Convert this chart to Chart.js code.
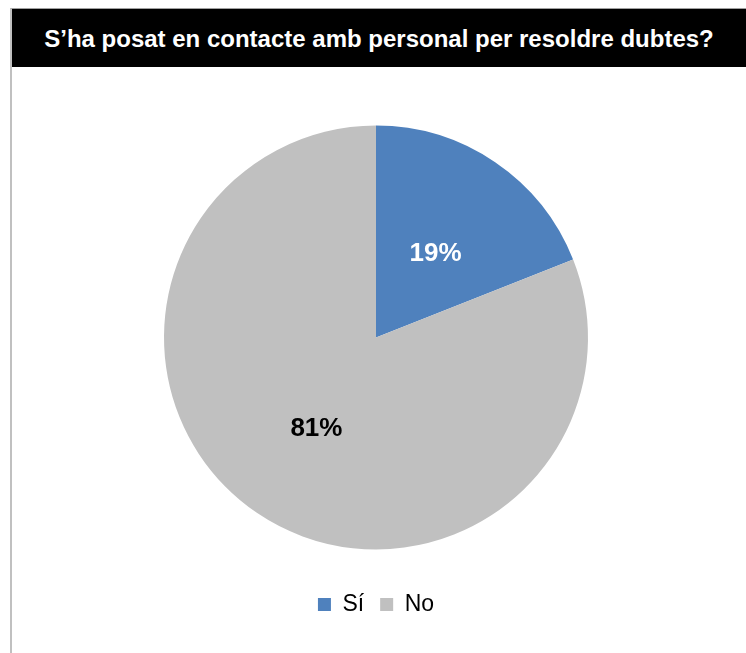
<!DOCTYPE html>
<html>
<head>
<meta charset="utf-8">
<style>
  body { margin: 0; background: #fff; }
  #frame { position: absolute; left: 10px; top: 8px; width: 736px; height: 645px;
           border-top: 1px solid #a0a0a0; border-left: 2px solid #c0c0c0; box-sizing: border-box; }
  #title { height: 58px; background: #000; color: #fff; font: bold 24px "Liberation Sans", Arial, sans-serif;
           text-align: center; line-height: 60px; }
  #wrap { position: absolute; left: 12px; top: 67px; width: 734px; height: 586px; }
</style>
</head>
<body>
<div id="frame">
  <div id="title">S’ha posat en contacte amb personal per resoldre dubtes?</div>
</div>
<div id="wrap"><canvas id="pie"></canvas></div>
<script src="https://cdn.jsdelivr.net/npm/chart.js"></script>
<script>
  const labels = ['Sí', 'No'];
  const values = [19, 81];
  const colors = ['#4F81BD', '#C0C0C0'];
  const labelColors = ['#ffffff', '#000000'];

  // draws the % labels in the middle of each slice
  const sliceLabels = {
    id: 'sliceLabels',
    afterDatasetsDraw(chart) {
      const ctx = chart.ctx;
      const meta = chart.getDatasetMeta(0);
      ctx.save();
      ctx.font = 'bold 26px "Liberation Sans", Arial, sans-serif';
      ctx.textAlign = 'center';
      ctx.textBaseline = 'middle';
      meta.data.forEach((arc, i) => {
        const p = arc.tooltipPosition();
        ctx.fillStyle = labelColors[i];
        ctx.fillText(values[i] + '%', p.x, p.y + 4);
      });
      ctx.restore();
    }
  };

  new Chart(document.getElementById('pie'), {
    type: 'pie',
    data: {
      labels: labels,
      datasets: [{
        data: values,
        backgroundColor: colors,
        borderWidth: 0,
        radius: 212
      }]
    },
    options: {
      responsive: true,
      maintainAspectRatio: false,
      animation: false,
      layout: { padding: { top: 31, right: 6, left: 0, bottom: 27 } },
      plugins: {
        tooltip: { enabled: false },
        legend: {
          position: 'bottom',
          labels: {
            boxWidth: 13,
            boxHeight: 13,
            padding: 16,
            color: '#000',
            font: { family: '"Liberation Sans", Arial, sans-serif', size: 23 }
          }
        }
      }
    },
    plugins: [sliceLabels]
  });
</script>
</body>
</html>
